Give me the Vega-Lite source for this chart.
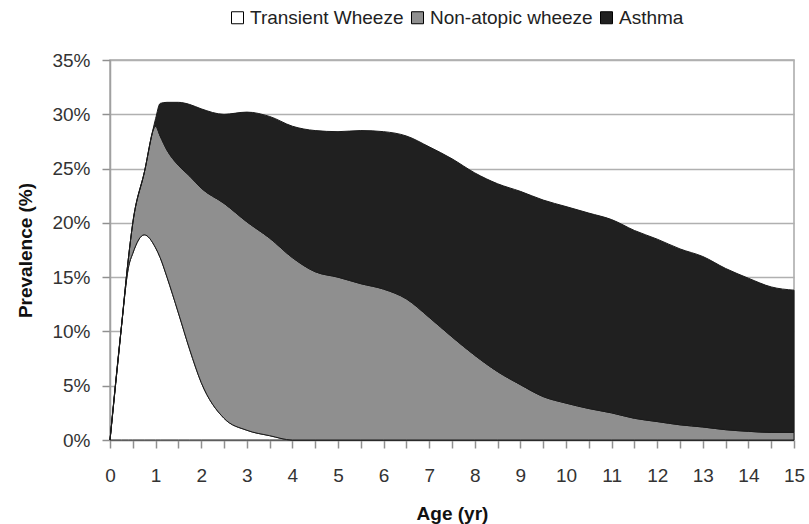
{
  "$schema": "https://vega.github.io/schema/vega-lite/v6.json",
  "width": 684,
  "height": 380,
  "autosize": {"type": "none"},
  "padding": {"left": 110, "top": 60, "right": 15, "bottom": 84},
  "background": "white",
  "config": {
    "font": "Liberation Sans",
    "view": {"stroke": "#a8a8a8", "strokeWidth": 1.5},
    "axis": {
      "labelFont": "Liberation Sans",
      "titleFont": "Liberation Sans",
      "labelFontSize": 19,
      "labelColor": "#333333",
      "titleFontSize": 19,
      "titleFontWeight": "bold",
      "titleColor": "#111111",
      "domainColor": "#a0a0a0",
      "domainWidth": 1.5,
      "tickColor": "#909090",
      "tickWidth": 1.5,
      "tickSize": 8
    },
    "legend": {"labelFont": "Liberation Sans"}
  },
  "data": {
    "values": [
      {"age": 0, "Transient Wheeze": 0, "Non-atopic wheeze": 0, "Asthma": 0},
      {"age": 0.25, "Transient Wheeze": 10.4, "Non-atopic wheeze": 0, "Asthma": 0},
      {"age": 0.4, "Transient Wheeze": 15.8, "Non-atopic wheeze": 0.8, "Asthma": 0},
      {"age": 0.5, "Transient Wheeze": 17.2, "Non-atopic wheeze": 2.8, "Asthma": 0},
      {"age": 0.75, "Transient Wheeze": 18.9, "Non-atopic wheeze": 5.7, "Asthma": 0},
      {"age": 1.0, "Transient Wheeze": 17.7, "Non-atopic wheeze": 11.2, "Asthma": 0.7},
      {"age": 1.1, "Transient Wheeze": 16.8, "Non-atopic wheeze": 11.2, "Asthma": 3.0},
      {"age": 1.25, "Transient Wheeze": 15.0, "Non-atopic wheeze": 11.7, "Asthma": 4.4},
      {"age": 1.5, "Transient Wheeze": 11.7, "Non-atopic wheeze": 13.6, "Asthma": 5.8},
      {"age": 1.75, "Transient Wheeze": 8.3, "Non-atopic wheeze": 16.0, "Asthma": 6.6},
      {"age": 2, "Transient Wheeze": 5.3, "Non-atopic wheeze": 17.9, "Asthma": 7.3},
      {"age": 2.5, "Transient Wheeze": 2.0, "Non-atopic wheeze": 19.8, "Asthma": 8.2},
      {"age": 3, "Transient Wheeze": 0.9, "Non-atopic wheeze": 19.2, "Asthma": 10.1},
      {"age": 3.5, "Transient Wheeze": 0.4, "Non-atopic wheeze": 18.2, "Asthma": 11.2},
      {"age": 4, "Transient Wheeze": 0, "Non-atopic wheeze": 16.8, "Asthma": 12.1},
      {"age": 4.5, "Transient Wheeze": 0, "Non-atopic wheeze": 15.5, "Asthma": 13.0},
      {"age": 5, "Transient Wheeze": 0, "Non-atopic wheeze": 15.0, "Asthma": 13.4},
      {"age": 5.5, "Transient Wheeze": 0, "Non-atopic wheeze": 14.4, "Asthma": 14.1},
      {"age": 6, "Transient Wheeze": 0, "Non-atopic wheeze": 13.9, "Asthma": 14.5},
      {"age": 6.5, "Transient Wheeze": 0, "Non-atopic wheeze": 13.0, "Asthma": 15.0},
      {"age": 7, "Transient Wheeze": 0, "Non-atopic wheeze": 11.3, "Asthma": 15.7},
      {"age": 7.5, "Transient Wheeze": 0, "Non-atopic wheeze": 9.5, "Asthma": 16.4},
      {"age": 8, "Transient Wheeze": 0, "Non-atopic wheeze": 7.8, "Asthma": 16.8},
      {"age": 8.5, "Transient Wheeze": 0, "Non-atopic wheeze": 6.3, "Asthma": 17.3},
      {"age": 9, "Transient Wheeze": 0, "Non-atopic wheeze": 5.1, "Asthma": 17.8},
      {"age": 9.5, "Transient Wheeze": 0, "Non-atopic wheeze": 4.0, "Asthma": 18.1},
      {"age": 10, "Transient Wheeze": 0, "Non-atopic wheeze": 3.4, "Asthma": 18.1},
      {"age": 10.5, "Transient Wheeze": 0, "Non-atopic wheeze": 2.9, "Asthma": 18.0},
      {"age": 11, "Transient Wheeze": 0, "Non-atopic wheeze": 2.5, "Asthma": 17.8},
      {"age": 11.5, "Transient Wheeze": 0, "Non-atopic wheeze": 2.0, "Asthma": 17.3},
      {"age": 12, "Transient Wheeze": 0, "Non-atopic wheeze": 1.7, "Asthma": 16.8},
      {"age": 12.5, "Transient Wheeze": 0, "Non-atopic wheeze": 1.4, "Asthma": 16.2},
      {"age": 13, "Transient Wheeze": 0, "Non-atopic wheeze": 1.2, "Asthma": 15.7},
      {"age": 13.5, "Transient Wheeze": 0, "Non-atopic wheeze": 0.95, "Asthma": 14.85},
      {"age": 14, "Transient Wheeze": 0, "Non-atopic wheeze": 0.8, "Asthma": 14.1},
      {"age": 14.5, "Transient Wheeze": 0, "Non-atopic wheeze": 0.7, "Asthma": 13.4},
      {"age": 15, "Transient Wheeze": 0, "Non-atopic wheeze": 0.7, "Asthma": 13.1}
    ]
  },
  "transform": [
    {"fold": ["Transient Wheeze", "Non-atopic wheeze", "Asthma"], "as": ["series", "value"]}
  ],
  "mark": {"type": "area", "interpolate": "monotone", "stroke": "#1a1a1a", "strokeWidth": 1},
  "encoding": {
    "x": {
      "field": "age",
      "type": "quantitative",
      "scale": {"domain": [0, 15], "nice": false, "zero": false},
      "axis": {
        "values": [0, 0.5, 1, 1.5, 2, 2.5, 3, 3.5, 4, 4.5, 5, 5.5, 6, 6.5, 7, 7.5, 8, 8.5, 9, 9.5, 10, 10.5, 11, 11.5, 12, 12.5, 13, 13.5, 14, 14.5, 15],
        "labelExpr": "datum.value % 1 === 0 ? format(datum.value, 'd') : ''",
        "labelOverlap": false,
        "labelFlush": false,
        "labelPadding": 18,
        "grid": false,
        "title": "Age (yr)",
        "titlePadding": 19
      }
    },
    "y": {
      "field": "value",
      "type": "quantitative",
      "stack": "zero",
      "scale": {"domain": [0, 35], "nice": false},
      "axis": {
        "values": [0, 5, 10, 15, 20, 25, 30, 35],
        "labelExpr": "datum.value + '%'",
        "labelPadding": 12,
        "grid": true,
        "gridColor": "#b0b0b0",
        "gridWidth": 1.5,
        "title": "Prevalence (%)",
        "titlePadding": 16
      }
    },
    "color": {
      "field": "series",
      "type": "nominal",
      "sort": ["Transient Wheeze", "Non-atopic wheeze", "Asthma"],
      "scale": {
        "domain": ["Transient Wheeze", "Non-atopic wheeze", "Asthma"],
        "range": ["#ffffff", "#8f8f8f", "#202020"]
      },
      "legend": {
        "title": null,
        "orient": "none",
        "direction": "horizontal",
        "legendX": 118,
        "legendY": -52,
        "symbolType": "square",
        "symbolSize": 144,
        "symbolStrokeColor": "#000000",
        "symbolStrokeWidth": 1,
        "symbolOpacity": 1,
        "labelFontSize": 19,
        "labelLimit": 400,
        "labelColor": "#222222",
        "labelOffset": 3,
        "columnPadding": 4
      }
    }
  }
}
